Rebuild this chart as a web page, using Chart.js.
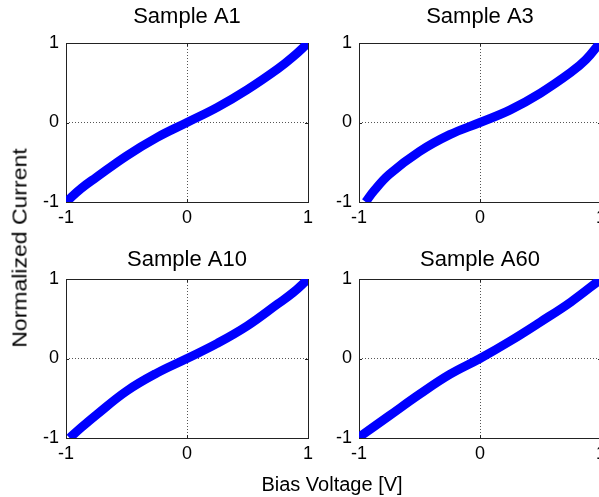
<!DOCTYPE html>
<html>
<head>
<meta charset="utf-8">
<script src="https://cdn.jsdelivr.net/npm/chart.js@4.4.1/dist/chart.umd.min.js"></script>
<style>
  html, body { margin: 0; padding: 0; background: #fff; overflow: hidden; width: 599px; height: 497px; }
  canvas { position: absolute; }
  .lbl { position: absolute; font-family: "Liberation Sans", Arial, sans-serif; font-size: 20px; color: #000; white-space: nowrap; }
  #ylab { left: 20px; top: 248px; transform: translate(-50%, -50%) rotate(-90deg) scaleX(1.15); }
  #xlab { left: 332px; top: 473px; transform: translateX(-50%); }
</style>
</head>
<body>
<canvas id="cA1" width="330" height="240" style="left:0px;top:0px"></canvas>
<canvas id="cA3" width="340" height="240" style="left:290px;top:0px"></canvas>
<canvas id="cA10" width="330" height="240" style="left:0px;top:236px"></canvas>
<canvas id="cA60" width="340" height="240" style="left:290px;top:236px"></canvas>
<div class="lbl" id="ylab">Normalized Current</div>
<div class="lbl" id="xlab">Bias Voltage [V]</div>
<script>
// values (bias voltage -> normalized current)
const sampleNames = ["Sample A1", "Sample A3", "Sample A10", "Sample A60"];
const tickValues = [-1, 0, 1];

const voltsA1 = [-1, -0.875, -0.75, -0.5, -0.25, 0, 0.25, 0.5, 0.75, 0.875, 1];
const currentA1 = [-1, -0.83, -0.69, -0.42, -0.19, 0, 0.19, 0.415, 0.674, 0.825, 1];

const voltsA3 = [-0.945, -0.875, -0.75, -0.5, -0.25, 0, 0.25, 0.5, 0.75, 0.875, 0.99];
const currentA3 = [-1, -0.857, -0.652, -0.365, -0.153, 0, 0.159, 0.37, 0.629, 0.79, 1];

const voltsA10 = [-0.97, -0.875, -0.75, -0.5, -0.25, 0, 0.25, 0.5, 0.75, 0.875, 1];
const currentA10 = [-1, -0.87, -0.71, -0.41, -0.184, 0, 0.19, 0.412, 0.686, 0.826, 1];

const voltsA60 = [-1, -0.75, -0.5, -0.25, 0, 0.25, 0.5, 0.75, 1];
const currentA60 = [-0.99, -0.72, -0.45, -0.2, 0, 0.22, 0.46, 0.71, 1];

const FONT = '"Liberation Sans", Arial, sans-serif';

// box, inner tick marks and subplot title (matlab look)
const framePlugin = {
  id: "frame",
  beforeDatasetsDraw(chart, args, opts) {
    const { ctx, chartArea: a, scales } = chart;
    ctx.save();
    ctx.strokeStyle = "#222";
    ctx.lineWidth = 1;
    ctx.beginPath();
    tickValues.forEach(v => {
      const px = Math.round(scales.x.getPixelForValue(v)) + 0.5;
      const py = Math.round(scales.y.getPixelForValue(v)) + 0.5;
      ctx.moveTo(px, a.bottom); ctx.lineTo(px, a.bottom - 3);
      ctx.moveTo(px, a.top); ctx.lineTo(px, a.top + 3);
      ctx.moveTo(a.left, py); ctx.lineTo(a.left + 3, py);
      ctx.moveTo(a.right, py); ctx.lineTo(a.right - 3, py);
    });
    ctx.stroke();
    ctx.strokeRect(Math.round(a.left) + 0.5, Math.round(a.top) + 0.5, Math.round(a.right - a.left), Math.round(a.bottom - a.top));
    ctx.restore();
  },
  afterDraw(chart, args, opts) {
    const { ctx, chartArea: a } = chart;
    ctx.save();
    ctx.fillStyle = "#000";
    ctx.font = "22px " + FONT;
    ctx.textAlign = "center";
    ctx.textBaseline = "alphabetic";
    ctx.fillText(opts.title, (a.left + a.right) / 2, a.top - opts.gap);
    ctx.restore();
  }
};

function makeChart(id, name, xs, ys, yWidth, rightPad, titleGap) {
  const ctx = document.getElementById(id).getContext("2d");
  const h = ctx.canvas.height;
  return new Chart(ctx, {
    type: "line",
    data: {
      datasets: [{
        data: xs.map((x, i) => ({ x: x, y: ys[i] })),
        borderColor: "#0000ff",
        borderWidth: 9,
        pointRadius: 0,
        tension: 0.4,
        clip: 0
      }]
    },
    options: {
      responsive: false,
      animation: false,
      layout: { padding: { top: 43, left: 0, right: rightPad, bottom: 0 } },
      plugins: {
        legend: { display: false },
        tooltip: { enabled: false },
        frame: { title: name, gap: titleGap }
      },
      scales: {
        x: {
          type: "linear",
          min: -1,
          max: 1,
          afterBuildTicks: s => { s.ticks = tickValues.map(v => ({ value: v })); },
          ticks: { color: "#000", font: { family: FONT, size: 18 }, padding: 5, maxRotation: 0 },
          grid: { color: c => (c.tick && c.tick.value === 0 ? "#555" : "transparent"), drawTicks: false, lineWidth: 1 },
          border: { display: false, dash: [1, 2] },
          afterFit: s => { s.height = h - 202; }
        },
        y: {
          type: "linear",
          min: -1,
          max: 1,
          afterBuildTicks: s => { s.ticks = tickValues.map(v => ({ value: v })); },
          ticks: { color: "#000", font: { family: FONT, size: 18 }, padding: 7 },
          grid: { color: c => (c.tick && c.tick.value === 0 ? "#555" : "transparent"), drawTicks: false, lineWidth: 1 },
          border: { display: false, dash: [1, 2] },
          afterFit: s => { s.width = yWidth; }
        }
      }
    },
    plugins: [framePlugin]
  });
}

makeChart("cA1", sampleNames[0], voltsA1, currentA1, 66, 22, 20);
makeChart("cA3", sampleNames[1], voltsA3, currentA3, 69, 29, 20);
makeChart("cA10", sampleNames[2], voltsA10, currentA10, 66, 22, 13);
makeChart("cA60", sampleNames[3], voltsA60, currentA60, 69, 29, 13);
</script>
</body>
</html>
